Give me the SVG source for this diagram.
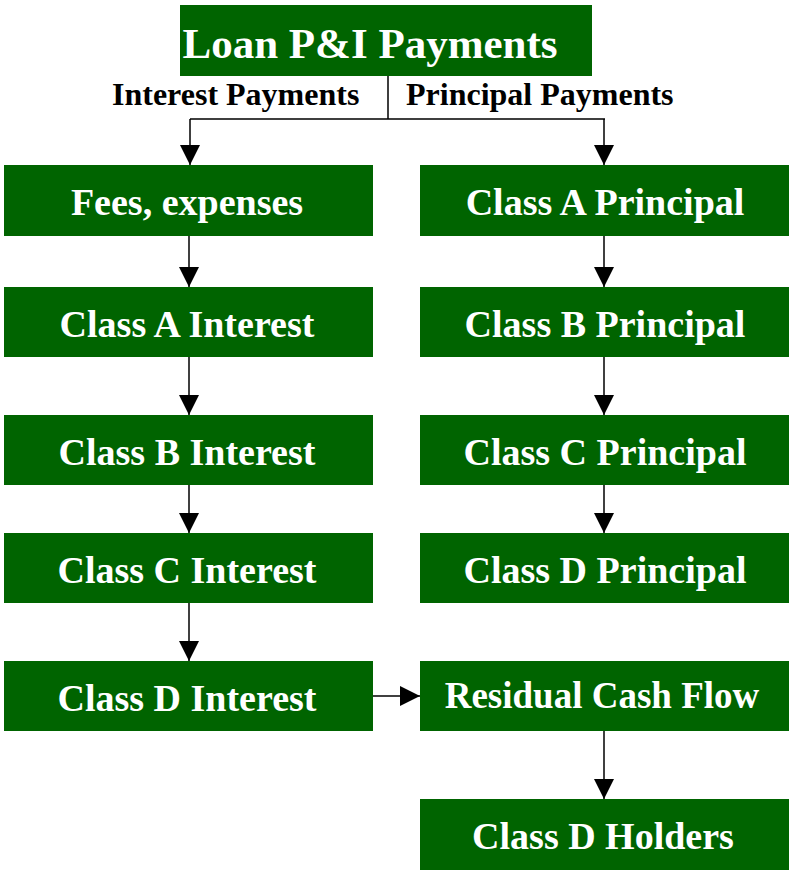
<svg xmlns="http://www.w3.org/2000/svg" width="790" height="871" viewBox="0 0 790 871">
<style>
.box{fill:#006400}
.t{font-family:"Liberation Serif","Times New Roman",serif;font-weight:bold;fill:#fff;font-size:38px;text-anchor:middle}
.lbl{font-family:"Liberation Serif","Times New Roman",serif;font-weight:bold;fill:#000;font-size:32px}
.c{stroke:#000;stroke-width:1.5;fill:none}
</style>
<defs>
<marker id="ah" markerWidth="20" markerHeight="20" refX="20" refY="10" orient="auto" markerUnits="userSpaceOnUse">
<path d="M0,0 L20,10 L0,20 Z" fill="#000"/>
</marker>
</defs>
<rect width="790" height="871" fill="#fff"/>
<g id="connectors">
<path class="c" d="M388,76 V119 M190,119 H605"/>
<path class="c" d="M190,119 V165" marker-end="url(#ah)"/>
<path class="c" d="M604,119 V165" marker-end="url(#ah)"/>
<path class="c" d="M189,236 V287" marker-end="url(#ah)"/>
<path class="c" d="M189,357 V415" marker-end="url(#ah)"/>
<path class="c" d="M189,485 V533" marker-end="url(#ah)"/>
<path class="c" d="M189,603 V661" marker-end="url(#ah)"/>
<path class="c" d="M604,236 V287" marker-end="url(#ah)"/>
<path class="c" d="M604,357 V415" marker-end="url(#ah)"/>
<path class="c" d="M604,485 V533" marker-end="url(#ah)"/>
<path class="c" d="M604,731 V799" marker-end="url(#ah)"/>
<path class="c" d="M373,696 H420" marker-end="url(#ah)"/>
</g>
<g id="title"><rect class="box" x="180" y="5" width="412" height="71"/><text class="t" x="370" y="58" style="font-size:43px">Loan P&amp;I Payments</text></g>
<g id="labels">
<text class="lbl" x="112" y="105">Interest Payments</text>
<text class="lbl" x="406" y="105">Principal Payments</text>
</g>
<g id="fees"><rect class="box" x="4" y="165" width="369" height="71"/><text class="t" x="187" y="215">Fees, expenses</text></g>
<g id="aint"><rect class="box" x="4" y="287" width="369" height="70"/><text class="t" x="187" y="337">Class A Interest</text></g>
<g id="bint"><rect class="box" x="4" y="415" width="369" height="70"/><text class="t" x="187" y="465">Class B Interest</text></g>
<g id="cint"><rect class="box" x="4" y="533" width="369" height="70"/><text class="t" x="187" y="583">Class C Interest</text></g>
<g id="dint"><rect class="box" x="4" y="661" width="369" height="70"/><text class="t" x="187" y="711">Class D Interest</text></g>
<g id="aprin"><rect class="box" x="420" y="165" width="369" height="71"/><text class="t" x="605" y="215">Class A Principal</text></g>
<g id="bprin"><rect class="box" x="420" y="287" width="369" height="70"/><text class="t" x="605" y="337">Class B Principal</text></g>
<g id="cprin"><rect class="box" x="420" y="415" width="369" height="70"/><text class="t" x="605" y="465">Class C Principal</text></g>
<g id="dprin"><rect class="box" x="420" y="533" width="369" height="70"/><text class="t" x="605" y="583">Class D Principal</text></g>
<g id="resid"><rect class="box" x="420" y="661" width="369" height="70"/><text class="t" x="602" y="708" style="font-size:37px">Residual Cash Flow</text></g>
<g id="holders"><rect class="box" x="420" y="799" width="369" height="71"/><text class="t" x="603" y="849">Class D Holders</text></g>
</svg>
